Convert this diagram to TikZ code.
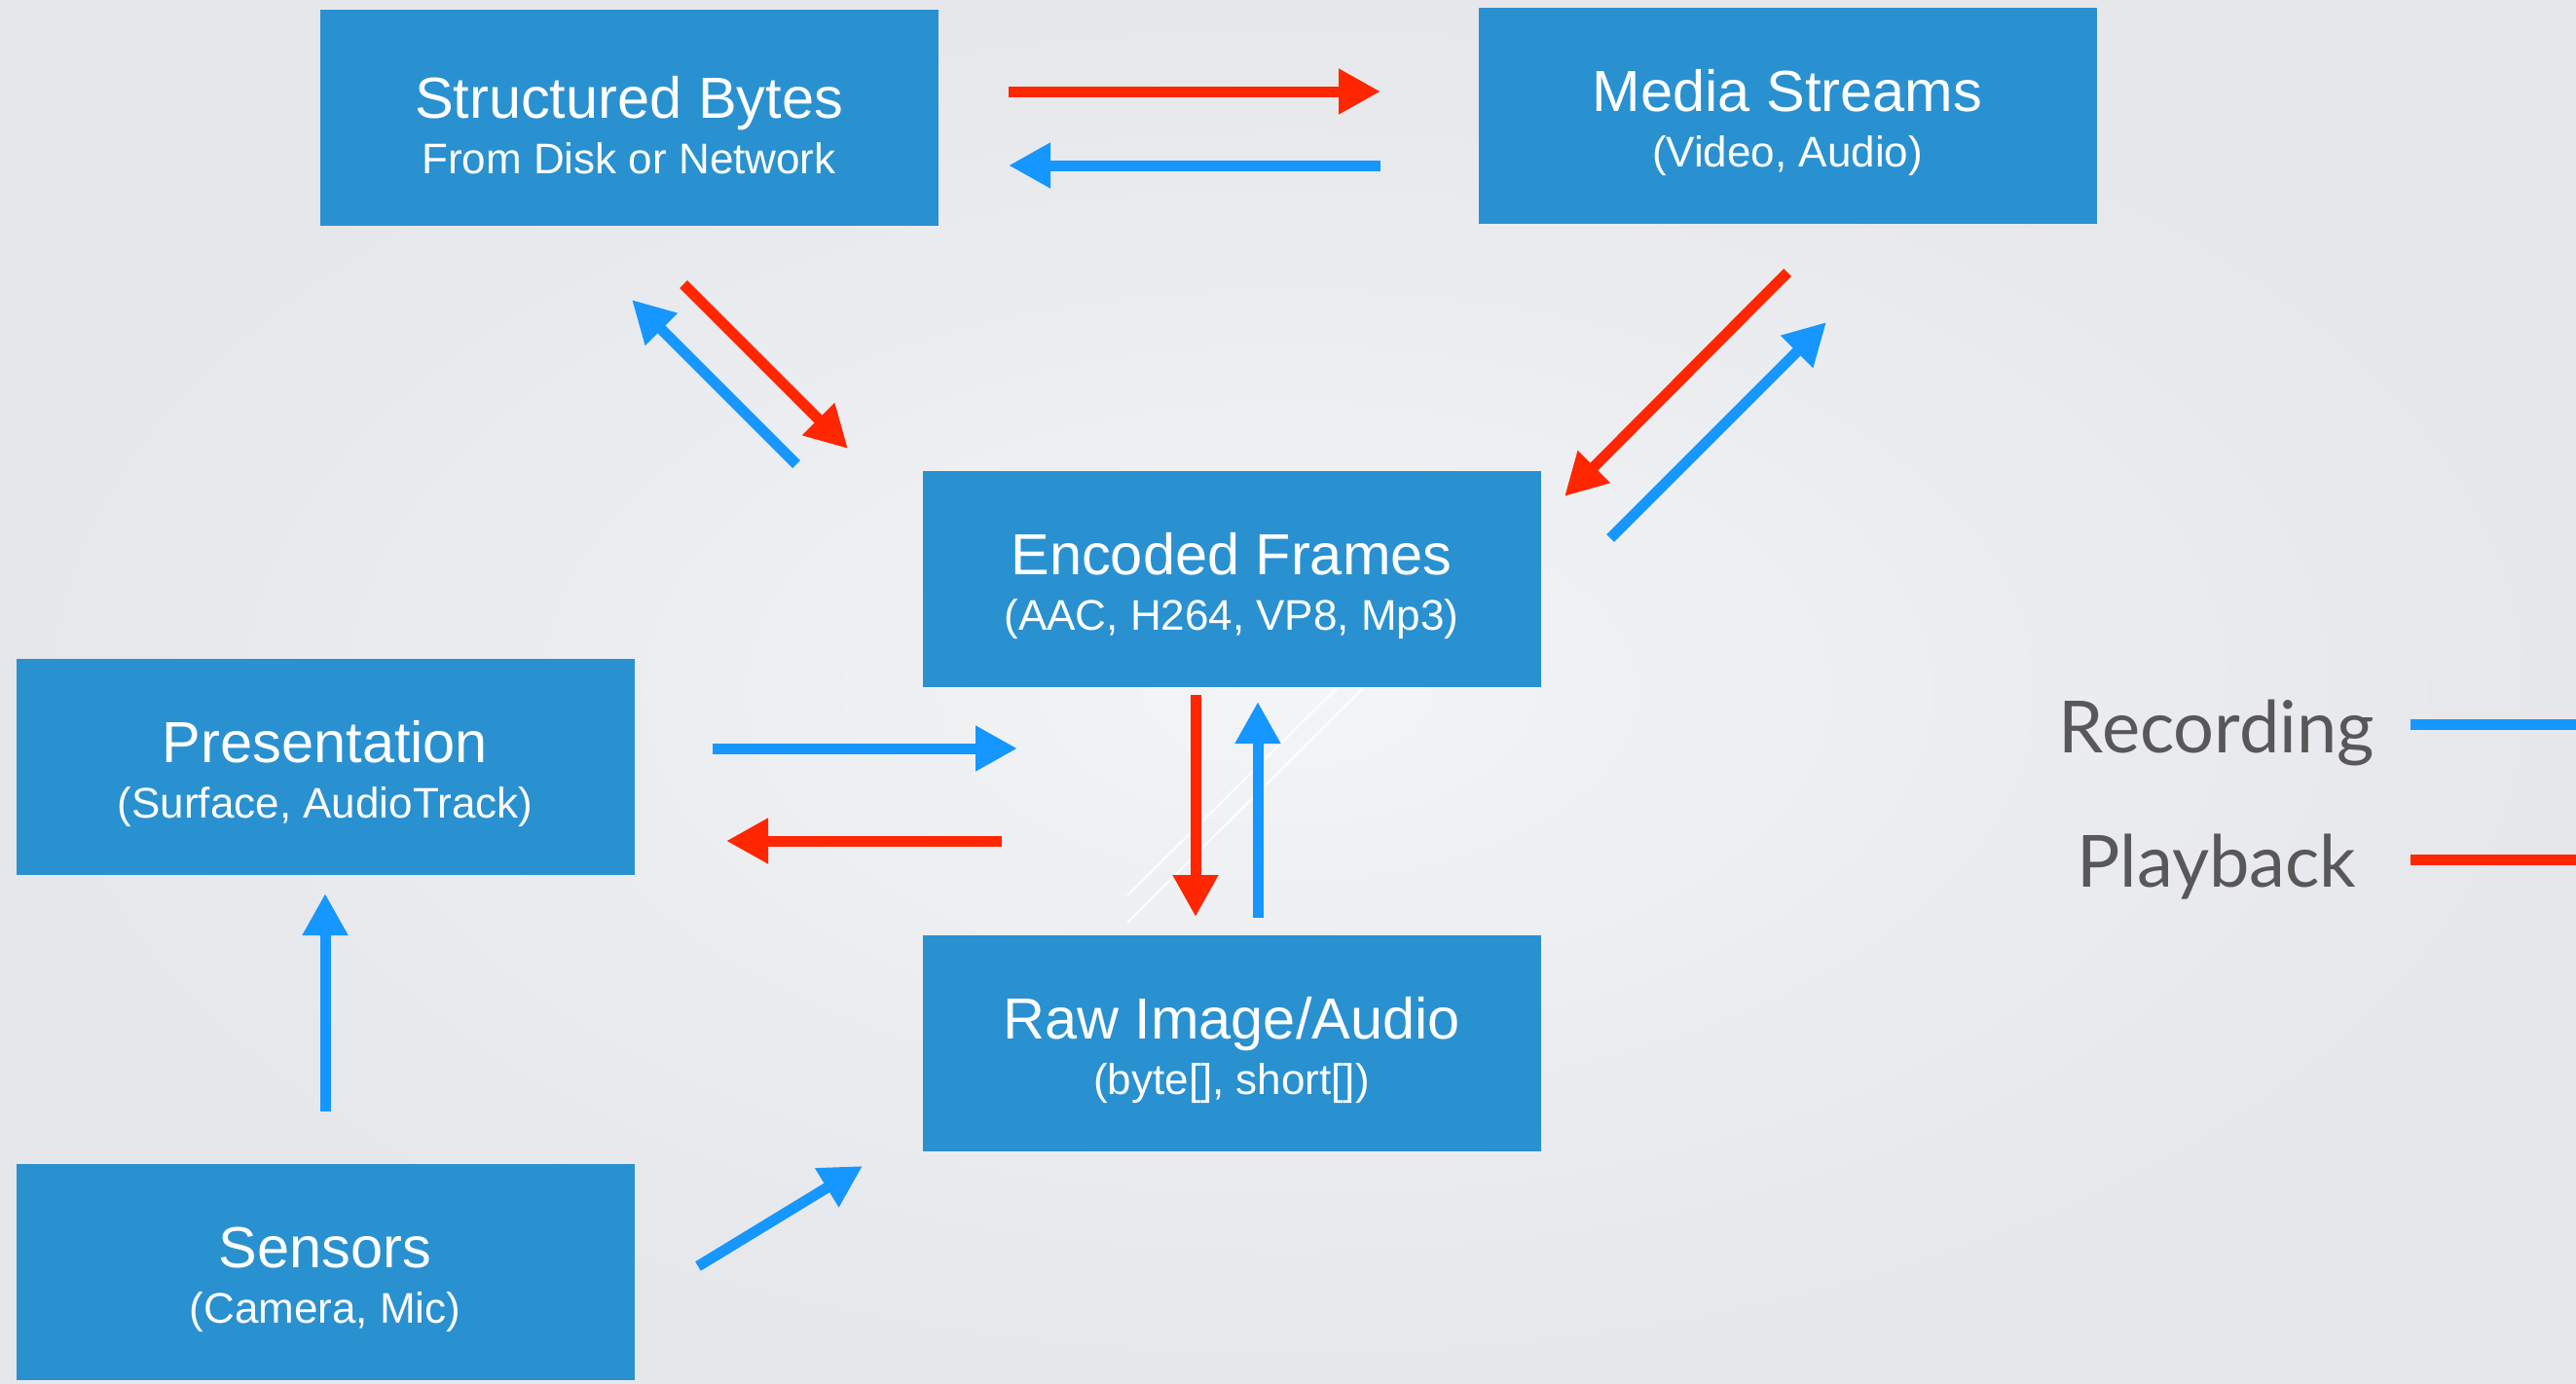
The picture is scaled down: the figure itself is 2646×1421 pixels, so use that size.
\documentclass[tikz,border=0pt]{standalone}
\usepackage{fontspec}
\setmainfont{Liberation Sans}
\newfontfamily\legendfont{Lato}
\usetikzlibrary{arrows.meta}
\definecolor{boxblue}{RGB}{42,145,208}
\definecolor{arrblue}{RGB}{22,150,255}
\definecolor{arrred}{RGB}{255,38,0}
\definecolor{bgin}{RGB}{243,244,246}
\definecolor{bgout}{RGB}{229,231,235}
\definecolor{legendgray}{RGB}{88,88,88}
\newcommand\boxtitle[1]{{\fontsize{59.5}{57}\selectfont\rule{0pt}{58pt}#1}}
\begin{document}
\begin{tikzpicture}[x=1pt,y=-1pt,
  box/.style={fill=boxblue, draw=none, minimum width=635pt, minimum height=222pt,
    inner sep=0pt, text=white, align=center, font=\fontsize{44}{57}\selectfont},
  flow/.style={line width=11pt, -{Triangle[width=44pt,length=43pt]}},
  rec/.style={flow, draw=arrblue},
  play/.style={flow, draw=arrred},
  legendtext/.style={anchor=base, text=legendgray, inner sep=0pt, font=\legendfont\fontsize{74}{80}\selectfont},
  legendline/.style={line width=11pt},
  glint/.style={draw=white, line width=2.2pt, opacity=0.85}]

% background
\shade[inner color=bgin, outer color=bgout] (0,0) rectangle (2646,1421);
\useasboundingbox (0,0) rectangle (2646,1421);

% boxes
\node[box] (sb)  at (646,121)   {\boxtitle{Structured Bytes}\\From Disk or Network};
\node[box] (ms)  at (1836,119)  {\boxtitle{Media Streams}\\(Video, Audio)};
\node[box] (ef)  at (1265,595)  {\boxtitle{Encoded Frames}\\(AAC, H264, VP8, Mp3)};
\node[box] (pr)  at (334,788)   {\boxtitle{Presentation}\\(Surface, AudioTrack)};
\node[box] (raw) at (1265,1072) {\boxtitle{Raw Image/Audio}\\(byte[], short[])};
\node[box] (se)  at (334,1307)  {\boxtitle{Sensors}\\(Camera, Mic)};

% faint white glints between Encoded Frames and Raw
\coordinate (g1a) at (1373,707);
\coordinate (g1b) at (1158,920);
\coordinate (g2a) at (1400,707);
\coordinate (g2b) at (1158,948);
\draw[glint] (g1a) -- (g1b);
\draw[glint] (g2a) -- (g2b);

% arrow end points
\coordinate (sbms1) at (1036,94);   \coordinate (sbms2) at (1418,94);
\coordinate (mssb1) at (1418,170);  \coordinate (mssb2) at (1036,170);
\coordinate (sbef1) at (702,292);   \coordinate (sbef2) at (871,461);
\coordinate (efsb1) at (818,477);   \coordinate (efsb2) at (649,308);
\coordinate (msef1) at (1836,280);  \coordinate (msef2) at (1607,510);
\coordinate (efms1) at (1654,553);  \coordinate (efms2) at (1876,331);
\coordinate (pref1) at (732,769);   \coordinate (pref2) at (1045,769);
\coordinate (efpr1) at (1029,864);  \coordinate (efpr2) at (746,864);
\coordinate (efraw1) at (1228,714); \coordinate (efraw2) at (1228,942);
\coordinate (rawef1) at (1292,943); \coordinate (rawef2) at (1292,721);
\coordinate (sepr1) at (334,1142);  \coordinate (sepr2) at (334,918);
\coordinate (seraw1) at (717,1301); \coordinate (seraw2) at (886,1198);

% arrows
\draw[play] (sbms1) -- (sbms2);
\draw[rec]  (mssb1) -- (mssb2);
\draw[play] (sbef1) -- (sbef2);
\draw[rec]  (efsb1) -- (efsb2);
\draw[play] (msef1) -- (msef2);
\draw[rec]  (efms1) -- (efms2);
\draw[rec]  (pref1) -- (pref2);
\draw[play] (efpr1) -- (efpr2);
\draw[play] (efraw1) -- (efraw2);
\draw[rec]  (rawef1) -- (rawef2);
\draw[rec]  (sepr1) -- (sepr2);
\draw[rec]  (seraw1) -- (seraw2);

% legend
\node[legendtext] (lrec) at (2277,773) {Recording};
\node[legendtext] (lplay) at (2277,911) {Playback};
\coordinate (lr1) at (2476,744); \coordinate (lr2) at (2646,744);
\coordinate (lp1) at (2476,883); \coordinate (lp2) at (2646,883);
\draw[legendline, draw=arrblue] (lr1) -- (lr2);
\draw[legendline, draw=arrred] (lp1) -- (lp2);
\end{tikzpicture}
\end{document}
